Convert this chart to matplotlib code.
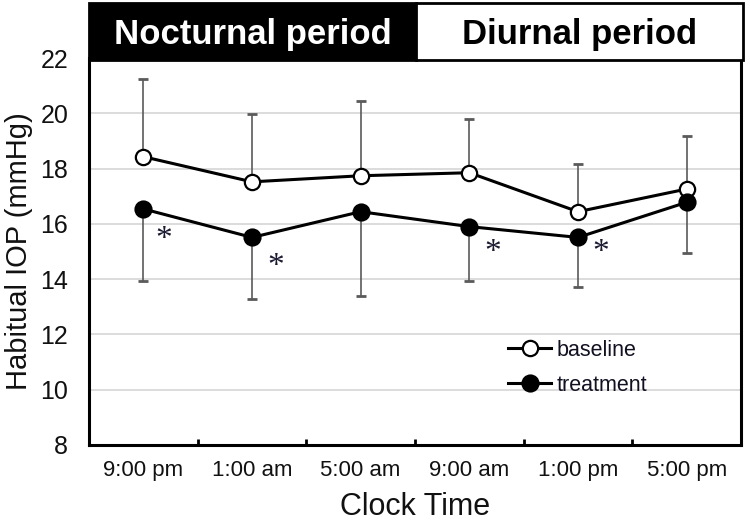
import numpy as np
import matplotlib
matplotlib.use('Agg')
import matplotlib.pyplot as plt
from matplotlib.patches import Rectangle

plt.rcParams['font.family'] = ['Liberation Sans', 'DejaVu Sans']

# data
times = ['9:00 pm', '1:00 am', '5:00 am', '9:00 am', '1:00 pm', '5:00 pm']
baseline = [18.43, 17.52, 17.74, 17.85, 16.44, 17.26]
baseline_sd = [2.80, 2.44, 2.71, 1.95, 1.73, 1.92]
treatment = [16.54, 15.51, 16.44, 15.90, 15.51, 16.78]
treatment_sd = [2.61, 2.24, 3.06, 1.97, 1.80, 1.83]
star_x = [0.19, 1.22, 3.22, 4.21]
star_y = [15.41, 14.44, 14.94, 14.94]
periods = ['Nocturnal period', 'Diurnal period']

x = np.arange(len(times))
zeros = np.zeros(len(times))

fig = plt.figure(figsize=(7.5, 5.21), dpi=100)
ax = fig.add_axes([89/750, 1 - 445/521, 652/750, 387/521])

err_col = '#5a5a5a'
ax.errorbar(x, baseline, yerr=[zeros, baseline_sd], fmt='none', ecolor=err_col,
            elinewidth=1.2, capsize=3.5, capthick=2, zorder=2)
ax.errorbar(x, treatment, yerr=[treatment_sd, zeros], fmt='none', ecolor=err_col,
            elinewidth=1.2, capsize=3.5, capthick=2, zorder=2)

ax.plot(x, baseline, '-o', color='black', lw=2.2, ms=11, mfc='white', mec='black',
        mew=1.6, label='baseline', zorder=4)
ax.plot(x, treatment, '-o', color='black', lw=2.2, ms=11.5, mfc='black', mec='black',
        mew=1.6, label='treatment', zorder=4)

for sx, sy in zip(star_x, star_y):
    ax.text(sx, sy, '*', family='Liberation Serif', fontsize=24, ha='center', va='center',
            color='#1a1a30', zorder=5)

ax.set_xlim(-0.5, 5.5)
ax.set_ylim(8, 22)
ax.set_yticks(np.arange(8, 23, 2))
ax.yaxis.grid(True, color='#d9d9d9', lw=1.3)
ax.set_axisbelow(True)
ax.tick_params(axis='y', length=0, pad=15, labelsize=18, colors='#111111')

ax.set_xticks(x + 0.5)
ax.set_xticks(x, minor=True)
ax.set_xticklabels([])
ax.set_xticklabels(times, minor=True)
ax.tick_params(axis='x', which='major', direction='in', length=4, width=2, color='black')
ax.tick_params(axis='x', which='minor', length=0, pad=11, labelsize=16, colors='#111111')

for s in ['left', 'bottom', 'right']:
    ax.spines[s].set_linewidth(2.2)
ax.spines['top'].set_visible(False)

ax.set_xlabel('Clock Time', fontsize=22, color='#111111', labelpad=8)
ax.set_ylabel('Habitual IOP (mmHg)', fontsize=21, color='#111111', labelpad=5)

ax.legend(loc='upper left', bbox_to_anchor=(508/750, 1 - 340/521),
          bbox_transform=fig.transFigure, frameon=False, fontsize=15.5,
          handlelength=2.0, handletextpad=0.25, labelspacing=0.65, borderpad=0,
          borderaxespad=0, labelcolor='#111122')

# header with the two periods
hax = fig.add_axes([89/750, 1 - 60/521, 654/750, 57/521])
hax.set_xlim(0, 2)
hax.set_ylim(0, 1)
hax.axis('off')
hax.add_patch(Rectangle((0, 0), 1, 1, facecolor='black', edgecolor='black', lw=2,
                        clip_on=False))
hax.add_patch(Rectangle((1, 0), 1, 1, facecolor='white', edgecolor='black', lw=2,
                        clip_on=False))
hax.text(0.5, 0.45, periods[0], color='white', fontsize=25, fontweight='bold',
         ha='center', va='center')
hax.text(1.5, 0.45, periods[1], color='black', fontsize=25, fontweight='bold',
         ha='center', va='center')

fig.savefig('out.png', dpi=100)
